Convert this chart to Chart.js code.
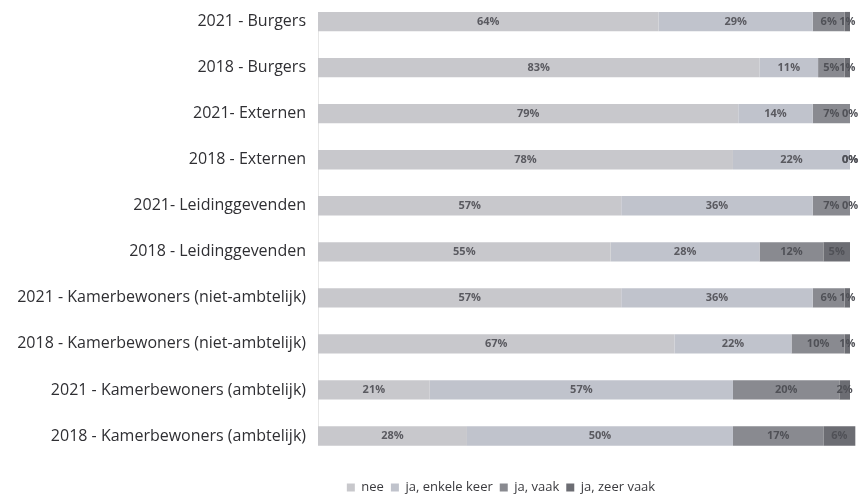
<!DOCTYPE html>
<html>
<head>
<meta charset="utf-8">
<script src="https://cdn.jsdelivr.net/npm/chart.js@4"></script>
<style>
  html, body { margin: 0; padding: 0; background: #fff; }
  #wrap { width: 861px; height: 499px; position: relative; }
</style>
</head>
<body>
<div id="wrap"><canvas id="chart"></canvas></div>
<script>
// categories, top to bottom
const groups = [
  '2021 - Burgers',
  '2018 - Burgers',
  '2021- Externen',
  '2018 - Externen',
  '2021- Leidinggevenden',
  '2018 - Leidinggevenden',
  '2021 - Kamerbewoners (niet-ambtelijk)',
  '2018 - Kamerbewoners (niet-ambtelijk)',
  '2021 - Kamerbewoners (ambtelijk)',
  '2018 - Kamerbewoners (ambtelijk)'
];
const seriesNames = ['nee', 'ja, enkele keer', 'ja, vaak', 'ja, zeer vaak'];

// percentages per series
const nee        = [64, 83, 79, 78, 57, 55, 57, 67, 21, 28];
const enkeleKeer = [29, 11, 14, 22, 36, 28, 36, 22, 57, 50];
const vaak       = [ 6,  5,  7,  0,  7, 12,  6, 10, 20, 17];
const zeerVaak   = [ 1,  1,  0,  0,  0,  5,  1,  1,  2,  6];

const colors = ['#c8c8cc', '#c0c3cc', '#898a90', '#6c6d73'];
const FONT = '"Open Sans", sans-serif';

// % labels in the middle of every segment
const valueLabels = {
  id: 'valueLabels',
  afterDatasetsDraw(chart) {
    const ctx = chart.ctx;
    ctx.save();
    ctx.font = 'bold 11px ' + FONT;
    ctx.textAlign = 'center';
    ctx.textBaseline = 'middle';
    chart.data.datasets.forEach((ds, di) => {
      chart.getDatasetMeta(di).data.forEach((bar, i) => {
        ctx.fillStyle = di < 2 ? '#5a5a60' : '#505157';
        ctx.fillText(ds.data[i] + '%', (bar.x + bar.base) / 2, bar.y);
      });
    });
    ctx.restore();
  }
};

// move legend a bit right and down, like the original
const legendNudge = {
  id: 'legendNudge',
  afterLayout(chart) {
    const lg = chart.legend;
    if (!lg) return;
    lg.left += 76; lg.right += 76;
    lg.top += 38; lg.bottom += 38;
  }
};

new Chart(document.getElementById('chart'), {
  type: 'bar',
  data: {
    labels: groups,
    datasets: [nee, enkeleKeer, vaak, zeerVaak].map((d, k) => ({
      label: seriesNames[k],
      data: d,
      backgroundColor: colors[k],
      borderWidth: 0,
      barPercentage: 0.42,
      categoryPercentage: 1,
      clip: false
    }))
  },
  options: {
    indexAxis: 'y',
    responsive: true,
    maintainAspectRatio: false,
    animation: false,
    layout: { padding: { top: 19, right: 11, bottom: 33, left: 0 } },
    scales: {
      x: { stacked: true, min: 0, max: 100, display: false },
      y: {
        stacked: true,
        offset: false,
        grid: { display: false, drawTicks: false },
        border: { display: true, color: '#e6e6e6', dash: [2, 3] },
        ticks: { color: '#2f2f33', font: { family: FONT, size: 16 }, padding: 12 },
        afterFit(scale) { scale.width = 318; }
      }
    },
    plugins: {
      legend: {
        position: 'bottom',
        labels: {
          boxWidth: 8,
          boxHeight: 8,
          padding: 7,
          color: '#3a3a3e',
          font: { family: FONT, size: 13 }
        }
      },
      tooltip: { enabled: false }
    }
  },
  plugins: [valueLabels, legendNudge]
});
</script>
</body>
</html>
